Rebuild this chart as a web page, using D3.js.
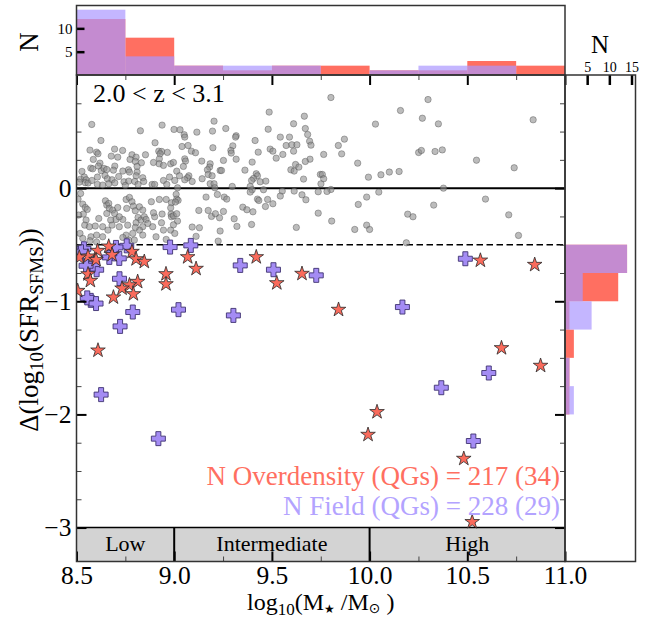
<!DOCTYPE html>
<html><head><meta charset="utf-8">
<script src="https://cdn.jsdelivr.net/npm/d3@7"></script>
<style>
body{margin:0;background:#fff}
svg{display:block}
svg text{font-family:"Liberation Serif",Tinos,"Times New Roman","DejaVu Serif",serif !important;fill:#000}
</style>
</head><body><svg id="c" width="654" height="619"></svg>
<script>
// ---------------- data ----------------
// all galaxies (grey points): [log10 M*, delta log SFR]
const allGalaxies = [
[8.578,0.563],[8.938,0.557],[8.827,0.507],[8.999,0.519],[8.625,0.421],[8.902,0.401],[8.569,0.336],[8.603,0.318],[8.610,0.304],[8.586,0.254],[8.695,0.345],[8.736,0.333],[8.678,0.283],[8.711,0.274],[8.784,0.295],[8.774,0.254],[8.805,0.274],[8.801,0.236],[8.853,0.295],[8.832,0.224],[8.921,0.327],[8.936,0.324],[8.928,0.304],[8.965,0.316],[8.924,0.259],[8.923,0.215],[8.894,0.227],[8.945,0.201],[8.982,0.215],[8.996,0.227],[8.620,0.221],[8.612,0.195],[8.573,0.177],[8.583,0.171],[8.528,0.148],[8.627,0.154],[8.641,0.174],[8.655,0.165],[8.696,0.195],[8.689,0.159],[8.737,0.151],[8.766,0.162],[8.771,0.142],[8.810,0.192],[8.810,0.142],[8.805,0.109],[8.521,0.080],[8.540,0.098],[8.549,0.074],[8.545,0.048],[8.559,0.045],[8.514,0.053],[8.579,0.068],[8.607,0.098],[8.646,0.112],[8.658,0.083],[8.682,0.074],[8.716,0.103],[8.743,0.056],[8.767,0.062],[8.798,0.059],[8.815,0.033],[8.750,0.024],[8.839,0.092],[8.844,0.059],[8.887,0.033],[8.900,0.033],[8.945,0.068],[8.976,0.098],[9.003,0.068],[8.962,0.033],[8.607,0.033],[8.634,0.027],[8.665,0.039],[8.696,0.047],
[8.521,-0.047],[8.508,-0.097],[8.532,-0.141],[8.545,-0.171],[8.555,-0.188],[8.535,-0.229],[8.511,-0.238],[8.549,-0.282],[8.542,-0.327],[8.566,-0.341],[8.518,-0.400],[8.532,-0.444],[8.574,-0.430],[8.603,-0.415],[8.596,-0.335],[8.634,-0.341],[8.614,-0.268],[8.648,-0.112],[8.655,-0.150],[8.665,-0.135],[8.668,-0.179],[8.655,-0.224],[8.685,-0.194],[8.695,-0.224],[8.711,-0.171],[8.702,-0.277],[8.675,-0.282],[8.682,-0.327],[8.719,-0.341],[8.661,-0.371],[8.634,-0.430],[8.603,-0.477],[8.569,-0.465],[8.754,-0.100],[8.771,-0.082],[8.784,-0.120],[8.791,-0.159],[8.757,-0.179],[8.801,-0.200],[8.822,-0.165],[8.839,-0.194],[8.815,-0.259],[8.805,-0.306],[8.830,-0.282],[8.847,-0.253],[8.856,-0.277],[8.865,-0.312],[8.839,-0.341],[8.822,-0.371],[8.801,-0.347],[8.788,-0.400],[8.754,-0.415],[8.737,-0.436],[8.767,-0.459],[8.796,-0.459],[8.839,-0.415],[8.883,-0.120],[8.924,-0.100],[8.959,-0.100],[8.986,-0.129],[8.938,-0.229],[8.984,-0.229],[8.900,-0.253],[8.935,-0.306],[8.890,-0.341],[8.945,-0.371],[8.982,-0.371],[8.907,-0.430],[8.959,-0.453],[9.003,-0.400],[8.986,-0.253],[8.894,-0.218],[8.737,-0.277],[8.762,-0.327],[8.719,-0.253],
[9.486,0.672],[9.204,0.592],[9.611,0.569],[9.030,0.516],[9.051,0.472],[9.054,0.451],[9.116,0.495],[9.196,0.504],[9.264,0.527],[9.481,0.521],[9.317,0.463],[9.314,0.451],[9.543,0.451],[9.590,0.451],[9.040,0.368],[9.071,0.377],[9.198,0.357],[9.414,0.421],[9.300,0.374],[9.491,0.345],[9.505,0.327],[9.290,0.333],[9.292,0.310],[9.088,0.327],[9.109,0.313],[9.430,0.318],[9.573,0.377],[9.602,0.383],[9.628,0.383],[9.611,0.327],[9.556,0.298],[9.522,0.265],[9.054,0.259],[9.058,0.239],[9.047,0.192],[9.141,0.239],[9.184,0.215],[9.181,0.186],[9.170,0.162],[9.252,0.245],[9.317,0.256],[9.399,0.230],[9.362,0.159],[9.235,0.156],[9.242,0.156],[9.174,0.121],[9.143,0.083],[9.194,0.109],[9.075,0.109],[9.068,0.092],[9.054,0.074],[9.092,0.059],[9.013,0.150],[9.027,0.109],[9.420,0.127],[9.426,0.109],[9.406,0.086],[9.396,0.068],[9.440,0.056],[9.469,0.062],[9.597,0.162],[9.614,0.151],[9.621,0.209],[9.638,0.186],[9.184,0.039],[9.204,0.039],[9.208,0.003],[9.297,0.015],[9.389,0.015],[9.399,-0.014],[9.389,-0.035],[9.457,-0.014],[9.553,-0.026],[9.614,-0.026],[9.543,-0.070],[9.017,0.003],[9.010,-0.055],[9.013,-0.097],[9.020,-0.108],[9.006,-0.123],[8.982,-0.174],[8.996,-0.244],[9.013,-0.226],[9.017,-0.291],[8.996,-0.324],[9.163,-0.079],[9.221,-0.056],[9.256,-0.079],[9.269,-0.097],[9.426,-0.097],[9.433,-0.109],[9.478,-0.100],[9.505,-0.138],[9.467,-0.162],[9.351,-0.168],[9.372,-0.191],[9.403,-0.209],[9.126,-0.197],[9.174,-0.197],[9.191,-0.250],[9.211,-0.226],[9.232,-0.262],[9.252,-0.206],[9.307,-0.271],[9.321,-0.338],[9.396,-0.321],[9.092,-0.344],[9.129,-0.350],[9.235,-0.379],[9.112,-0.426],[9.225,-0.468],[9.625,-0.347],
[9.802,0.801],[9.666,0.636],[10.030,0.566],[10.158,0.686],[9.671,0.527],[9.683,0.474],[9.693,0.415],[9.700,0.380],[9.765,0.298],[9.840,0.377],[9.871,0.433],[9.857,0.303],[9.939,0.221],[9.695,0.256],[9.671,0.236],[9.662,0.080],[9.748,0.121],[9.758,0.121],[9.765,0.083],[9.751,0.038],[9.994,0.097],[10.058,0.118],[10.101,0.142],[10.151,0.147],[9.802,-0.012],[9.782,-0.029],[9.737,-0.032],[9.654,-0.059],[9.674,-0.103],[10.047,-0.035],[9.985,-0.079],[9.942,-0.144],[9.737,-0.221],[9.806,-0.291],[9.924,-0.365],[9.985,-0.327],[10.000,-0.365],
[10.299,0.783],[10.270,0.618],[10.352,0.568],[10.251,0.315],[10.265,0.333],[10.335,0.324],[10.372,0.338],[10.547,0.247],[10.740,0.180],[10.837,0.604],[10.378,0.000],[10.328,-0.150],[10.593,-0.097],[10.712,-0.236],[10.762,-0.418],[10.195,-0.230],[10.222,-0.253],[10.188,-0.483]
];

// overdensity quiescent galaxies (stars)
const odMass  = [8.608,8.665,8.559,8.514,8.600,8.682,8.784,8.805,8.847,8.559,8.571,8.506,8.958,8.958,8.813,8.771,8.733,8.791,8.689,8.610,9.069,9.112,9.420,9.525,9.654,9.841,10.567,10.845,10.675,10.875,10.038,9.992,10.482,10.525];
const odDelta = [-0.553,-0.515,-0.603,-0.612,-0.633,-0.589,-0.562,-0.627,-0.650,-0.76,-0.818,-0.907,-0.759,-0.848,-0.827,-0.857,-0.886,-0.936,-0.965,-1.434,-0.609,-0.712,-0.609,-0.839,-0.756,-1.074,-0.639,-0.677,-1.413,-1.569,-1.978,-2.179,-2.391,-2.950];

// field quiescent galaxies (pluses)
const fdMass  = [8.538,8.757,8.979,9.085,9.338,9.508,9.727,8.603,8.720,8.573,8.788,9.022,9.303,8.723,8.626,8.919,10.168,10.49,10.610,10.367,10.531,8.702,8.668,8.719,8.523,8.583,8.549,8.555,8.600];
const fdDelta = [-0.536,-0.51,-0.521,-0.506,-0.683,-0.721,-0.771,-0.721,-0.801,-0.992,-1.095,-1.074,-1.125,-1.222,-1.825,-2.214,-1.051,-0.624,-1.634,-1.764,-2.235,-0.524,-0.612,-0.621,-0.562,-0.671,-0.686,-0.970,-1.020];

const bandNames = ["Low","Intermediate","High"];
const bandEdges = [8.5, 9.0, 10.0, 11.0];
const xTickVals = [8.5,9.0,9.5,10.0,10.5,11.0];
const yTickVals = [0,-1,-2,-3];
const topHistTicks = [5,10];
const rightHistTicks = [5,10,15];
const legendLines = ["N Overdensity (QGs) = 217 (34)", "N Field (QGs) = 228 (29)"];
const redshiftLabel = "2.0 < z < 3.1";

// ---------------- layout ----------------
const L = 76.5, R = 565, T = 75, B = 561.5, TH = 5.5, RR = 635.5;
const RED = "#FF6F61", PURP = "#AB97FF";
const FONT = "'Liberation Serif', Tinos, 'Times New Roman', 'DejaVu Serif', serif";
const svg = d3.select("#c").style("font-family", FONT);

const x = d3.scaleLinear([8.5, 11.0], [L, R]);
const y = d3.scaleLinear([-3.3, 1.0], [B, T]);
const yTop = d3.scaleLinear([0, 14.9], [T, TH]);
const xRight = d3.scaleLinear([0, 15.9], [R, RR]);

svg.append("defs").append("clipPath").attr("id","clipMain")
  .append("rect").attr("x",L).attr("y",T).attr("width",R-L).attr("height",B-T);

// grey band with mass bins
const band = svg.append("g");
band.selectAll("rect").data(bandNames).join("rect")
  .attr("x",(d,i)=>x(bandEdges[i])).attr("width",(d,i)=>x(bandEdges[i+1])-x(bandEdges[i]))
  .attr("y",y(-3)).attr("height",y(-3.3)-y(-3)).attr("fill","#d3d3d3");
band.append("line").attr("x1",L).attr("x2",R).attr("y1",y(-3)).attr("y2",y(-3))
  .attr("stroke","#000").attr("stroke-width",1.6);
band.selectAll("line.sep").data(bandEdges.slice(1,3)).join("line").attr("class","sep")
  .attr("x1",d=>x(d)).attr("x2",d=>x(d)).attr("y1",y(-3)).attr("y2",B)
  .attr("stroke","#000").attr("stroke-width",2);
band.selectAll("text").data(bandNames).join("text")
  .attr("x",(d,i)=>x((bandEdges[i]+bandEdges[i+1])/2)).attr("y",551)
  .attr("text-anchor","middle").attr("font-size",22).text(d=>d);

// reference lines
svg.append("line").attr("x1",L).attr("x2",R).attr("y1",y(0)).attr("y2",y(0))
  .attr("stroke","#000").attr("stroke-width",2);
svg.append("line").attr("x1",L).attr("x2",R).attr("y1",y(-0.5)).attr("y2",y(-0.5))
  .attr("stroke","#000").attr("stroke-width",1.6).attr("stroke-dasharray","6.5,3.5");

const main = svg.append("g").attr("clip-path","url(#clipMain)");
main.selectAll("circle").data(allGalaxies).join("circle")
  .attr("cx",d=>x(d[0])).attr("cy",d=>y(d[1])).attr("r",3.2)
  .attr("fill","#8f8f8f").attr("fill-opacity",0.6)
  .attr("stroke","#3a3a3a").attr("stroke-opacity",0.45).attr("stroke-width",0.8);

// field: filled plus markers
const plusPath = (h,w)=>`M${-w},${-h}H${w}V${-w}H${h}V${w}H${w}V${h}H${-w}V${w}H${-h}V${-w}H${-w}Z`;
main.selectAll("path.fd").data(fdMass.map((m,i)=>[m,fdDelta[i]])).join("path").attr("class","fd")
  .attr("transform",d=>`translate(${x(d[0])},${y(d[1])})`)
  .attr("d",plusPath(7,2.5))
  .attr("fill","#A48CF4").attr("stroke","#3e3270").attr("stroke-width",0.9);

// overdensity: stars
const star = d3.symbol(d3.symbolStar).size(66);
main.selectAll("path.od").data(odMass.map((m,i)=>[m,odDelta[i]])).join("path").attr("class","od")
  .attr("transform",d=>`translate(${x(d[0])},${y(d[1])})`)
  .attr("d",star)
  .attr("fill","#FA6B5C").attr("stroke","#2a2a2a").attr("stroke-width",0.8);

// ---------------- axes main ----------------
function styleAxis(g, fs){
  g.attr("font-family", FONT);
  g.select(".domain").remove();
  g.selectAll(".tick line").attr("stroke","#000").attr("stroke-width",2);
  g.selectAll(".tick text").attr("font-family", FONT).attr("font-size",fs).attr("fill","#000");
}
function styleMinor(g){
  g.select(".domain").remove();
  g.selectAll(".tick line").attr("stroke","#444").attr("stroke-width",1);
  g.selectAll(".tick text").remove();
}
const xMinor = d3.range(8.75, 11, 0.5);
const yMinor = d3.range(-3, 1, 0.25).filter(v=>!Number.isInteger(v));

svg.append("g").attr("transform",`translate(0,${B})`)
  .call(d3.axisBottom(x).tickValues(xTickVals).tickSize(-10).tickPadding(4).tickFormat(d3.format(".1f")))
  .call(g=>styleAxis(g,25.5));
svg.append("g").attr("transform",`translate(0,${B})`)
  .call(d3.axisBottom(x).tickValues(xMinor).tickSize(-5)).call(styleMinor);
svg.append("g").attr("transform",`translate(0,${T})`)
  .call(d3.axisTop(x).tickValues(xTickVals).tickSize(-10).tickFormat(""))
  .call(g=>styleAxis(g,10));
svg.append("g").attr("transform",`translate(0,${T})`)
  .call(d3.axisTop(x).tickValues(xMinor).tickSize(-5)).call(styleMinor);
svg.append("g").attr("transform",`translate(${L},0)`)
  .call(d3.axisLeft(y).tickValues(yTickVals).tickSize(-10).tickPadding(5).tickFormat(d3.format("d")))
  .call(g=>styleAxis(g,25.5));
svg.append("g").attr("transform",`translate(${L},0)`)
  .call(d3.axisLeft(y).tickValues(yMinor).tickSize(-5)).call(styleMinor);
svg.append("g").attr("transform",`translate(${R},0)`)
  .call(d3.axisRight(y).tickValues(yTickVals).tickSize(-10).tickFormat(""))
  .call(g=>styleAxis(g,10));
svg.append("g").attr("transform",`translate(${R},0)`)
  .call(d3.axisRight(y).tickValues(yMinor).tickSize(-5)).call(styleMinor);

// ---------------- histograms ----------------
const massBins = d3.bin().domain([8.5,11.0]).thresholds(d3.range(8.5,11.0,0.25));
const odMB = massBins(odMass), fdMB = massBins(fdMass);
const topG = svg.append("g");
topG.selectAll("rect.od").data(odMB).join("rect").attr("class","od")
  .attr("x",d=>x(d.x0)).attr("width",d=>x(d.x1)-x(d.x0))
  .attr("y",d=>yTop(d.length)).attr("height",d=>T-yTop(d.length)).attr("fill",RED);
topG.selectAll("rect.fd").data(fdMB).join("rect").attr("class","fd")
  .attr("x",d=>x(d.x0)).attr("width",d=>x(d.x1)-x(d.x0))
  .attr("y",d=>yTop(d.length)).attr("height",d=>T-yTop(d.length)).attr("fill",PURP).attr("fill-opacity",0.7);

const dBins = d3.bin().domain([-2.0,-0.5]).thresholds(d3.range(-2.0,-0.5,0.25));
const odDB = dBins(odDelta), fdDB = dBins(fdDelta);
const rightG = svg.append("g");
rightG.selectAll("rect.od").data(odDB).join("rect").attr("class","od")
  .attr("y",d=>y(d.x1)).attr("height",d=>y(d.x0)-y(d.x1))
  .attr("x",R).attr("width",d=>xRight(d.length)-R).attr("fill",RED);
rightG.selectAll("rect.fd").data(fdDB).join("rect").attr("class","fd")
  .attr("y",d=>y(d.x1)).attr("height",d=>y(d.x0)-y(d.x1))
  .attr("x",R).attr("width",d=>xRight(d.length)-R).attr("fill",PURP).attr("fill-opacity",0.7);

svg.append("g").attr("transform",`translate(${L},0)`)
  .call(d3.axisLeft(yTop).tickValues(topHistTicks).tickSize(-8).tickPadding(4))
  .call(g=>styleAxis(g,15)).call(g=>g.selectAll(".tick line").attr("stroke-width",2.5));
svg.append("g").attr("transform",`translate(0,${T})`)
  .call(d3.axisTop(xRight).tickValues(rightHistTicks).tickSize(-10).tickPadding(3))
  .call(g=>styleAxis(g,14)).call(g=>g.selectAll(".tick line").attr("stroke-width",2.5));

// frames
const frame = (x0,y0,w,h)=>svg.append("rect").attr("x",x0).attr("y",y0).attr("width",w).attr("height",h)
  .attr("fill","none").attr("stroke","#333").attr("stroke-width",1.5);
frame(L,T,R-L,B-T);
frame(L,TH,R-L,T-TH);
frame(R,T,RR-R,B-T);

// ---------------- texts ----------------
svg.append("text").attr("x",93).attr("y",101.5).attr("font-size",26).text(redshiftLabel);
svg.selectAll("text.leg").data(legendLines).join("text").attr("class","leg")
  .attr("x",560).attr("y",(d,i)=>485+i*30).attr("text-anchor","end").attr("font-size",27)
  .style("fill",(d,i)=>i===0?"#FF6F61":"#B3A3FF").text(d=>d);

// x label
const xl = svg.append("text").attr("x",(L+R)/2).attr("y",610).attr("text-anchor","middle").attr("font-size",24);
xl.append("tspan").text("log");
xl.append("tspan").attr("font-size",17).attr("dy",5).text("10");
xl.append("tspan").attr("dy",-5).text("(M");
xl.append("tspan").attr("font-size",12).attr("dy",3).style("font-family","DejaVu Sans").text("★");
xl.append("tspan").attr("dy",-3).text(" /M");
xl.append("tspan").attr("font-size",14).attr("dy",3).style("font-family","DejaVu Sans").text("⊙");
xl.append("tspan").attr("dy",-3).text(" )");

// y label
const yl = svg.append("text").attr("transform","translate(38,330) rotate(-90)").attr("text-anchor","middle").attr("font-size",27);
yl.append("tspan").text("Δ(log");
yl.append("tspan").attr("font-size",19).attr("dy",5).text("10");
yl.append("tspan").attr("dy",-5).text("(SFR");
yl.append("tspan").attr("font-size",19).attr("dy",5).text("SFMS");
yl.append("tspan").attr("dy",-5).text("))");

// N labels for histograms
svg.append("text").attr("transform","translate(38,42) rotate(-90)").attr("text-anchor","middle").attr("font-size",27).text("N");
svg.append("text").attr("x",600).attr("y",53).attr("text-anchor","middle").attr("font-size",25).text("N");
</script>
</body></html>
